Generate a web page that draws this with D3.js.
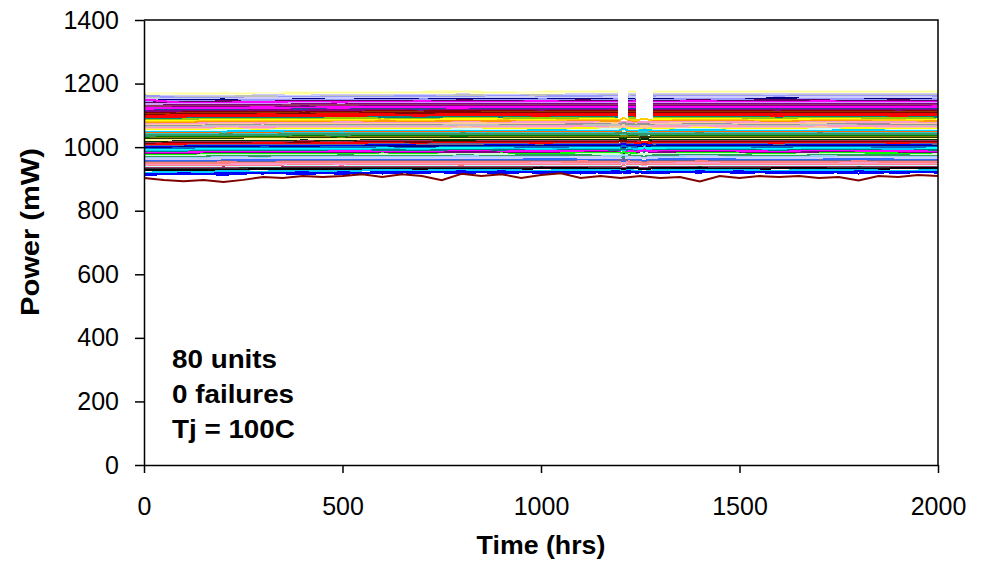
<!DOCTYPE html>
<html>
<head>
<meta charset="utf-8">
<script src="https://cdn.jsdelivr.net/npm/d3@7"></script>
<style>
  body { margin: 0; background: #fff; }
  text { font-family: "Liberation Sans", Arial, sans-serif; fill: #000; }
</style>
</head>
<body>
<svg id="chart" width="985" height="573"></svg>
<script>
// sample times (hrs) shared by the units
const hours = [0,100,200,300,400,500,600,700,800,900,1000,1100,1195,1208,1220,1240,1260,1282,1400,1500,1600,1700,1800,1900,2000];

// power readings (mW) per unit, null = missing reading
const unitValues = [
  [1168,1170,1172,1171,1173,1174,1172,1175,1176,1174,1175,1176,1177,null,1176,1177,null,1176,1177,1178,1176,1177,1176,1177,1178],
  [1165,1166,1168,1167,1170,1171,1169,1172,1173,1171,1172,1173,1174,null,1173,1172,null,1173,1174,1174,1172,1173,1174,1173,1174],
  [1172,1163,1164,1166,1165,1167,1168,1166,1169,1168,1170,1169,1170,null,1169,1170,null,1169,1171,1170,1169,1171,1170,1169,1171],
  [1160,1160,1161,1163,1162,1164,1165,1163,1166,1164,1165,1166,1167,null,1166,1167,null,1166,1168,1167,1166,1168,1167,1166,1167],
  [1158,1157,1159,1160,1158,1161,1162,1160,1163,1162,1163,1162,1163,null,1162,1164,null,1163,1164,1163,1162,1164,1163,1164,1163],
  [1163,1154,1156,1155,1158,1157,1159,1160,1158,1160,1159,1161,1160,null,1159,1160,null,1161,1160,1162,1160,1161,1160,1161,1160],
  [1150,1151,1152,1154,1153,1155,1154,1156,1155,1157,1156,1155,1157,null,1156,1157,null,1156,1158,1157,1156,1157,1158,1157,1156],
  [1146,1148,1150,1147,1151,1149,1152,1150,1153,1151,1152,1150,1153,null,1152,1151,null,1152,1153,1151,1154,1152,1153,1151,1152],
  [1144,1145,1146,1148,1147,1149,1148,1150,1149,1148,1150,1149,1150,null,1149,1150,null,1149,1151,1150,1149,1151,1150,1149,1150],
  [1140,1142,1144,1143,1145,1144,1146,1145,1147,1146,1145,1147,1146,null,1145,1147,null,1146,1147,1146,1148,1147,1146,1147,1146],
  [1150,1139,1140,1142,1141,1143,1142,1144,1142,1143,1144,1143,1142,null,1143,1144,null,1143,1144,1143,1142,1144,1143,1142,1143],
  [1135,1136,1137,1136,1138,1137,1139,1138,1140,1139,1138,1140,1139,null,1138,1139,null,1140,1139,1140,1138,1139,1140,1139,1140],
  [1130,1132,1134,1132,1135,1134,1136,1135,1137,1136,1135,1137,1136,null,1135,1136,null,1137,1136,1135,1137,1136,1135,1136,1137],
  [1128,1129,1131,1130,1132,1131,1133,1132,1131,1133,1132,1134,1133,null,1132,1133,null,1132,1134,1133,1132,1133,1134,1133,1132],
  [1124,1125,1127,1126,1128,1127,1129,1128,1130,1129,1128,1129,1130,null,1129,1128,null,1129,1130,1129,1131,1130,1129,1130,1129],
  [1122,1122,1124,1125,1124,1126,1125,1127,1126,1125,1127,1126,1127,null,1126,1125,null,1126,1127,1126,1125,1127,1126,1127,1128],
  [1118,1119,1121,1120,1122,1121,1123,1122,1124,1123,1122,1123,1124,null,1123,1122,null,1123,1124,1123,1122,1123,1124,1123,1122],
  [1115,1116,1118,1117,1119,1118,1120,1119,1118,1120,1119,1121,1120,null,1119,1120,null,1119,1121,1120,1119,1120,1121,1120,1119],
  [1112,1113,1114,1116,1115,1117,1116,1115,1117,1116,1118,1117,1116,null,1117,1116,null,1117,1118,1117,1116,1117,1118,1117,1116],
  [1108,1109,1111,1110,1112,1111,1113,1112,1114,1113,1112,1113,1114,null,1113,1112,null,1113,1114,1113,1112,1114,1113,1112,1113],
  [1105,1106,1108,1107,1109,1108,1110,1109,1108,1110,1109,1111,1110,null,1109,1110,null,1109,1111,1110,1109,1110,1111,1110,1109],
  [1102,1103,1105,1104,1106,1105,1107,1106,1108,1107,1106,1107,1108,null,1107,1106,null,1107,1108,1107,1106,1108,1107,1106,1107],
  [1099,1100,1101,1103,1102,1104,1103,1102,1104,1103,1105,1104,1103,null,1104,1103,null,1104,1105,1104,1103,1104,1105,1104,1103],
  [1095,1096,1098,1097,1099,1098,1100,1099,1101,1100,1099,1100,1101,null,1100,1099,null,1100,1101,1100,1099,1101,1100,1099,1100],
  [1092,1093,1095,1094,1096,1095,1097,1096,1095,1097,1096,1098,1097,null,1096,1097,null,1096,1098,1097,1096,1097,1098,1097,1096],
  [1089,1090,1092,1091,1093,1092,1094,1093,1095,1094,1093,1094,1095,null,1094,1093,null,1094,1095,1094,1093,1095,1094,1093,1094],
  [1086,1087,1088,1090,1089,1091,1090,1089,1091,1090,1092,1091,1090,null,1091,1090,null,1091,1092,1091,1090,1091,1092,1091,1090],
  [1082,1083,1085,1084,1086,1085,1087,1086,1088,1087,1086,1087,1088,null,1087,1086,null,1087,1088,1087,1086,1088,1087,1086,1087],
  [1079,1080,1082,1081,1083,1082,1084,1083,1082,1084,1083,1085,1084,1092,1085,1084,1090,1083,1085,1084,1083,1084,1085,1084,1083],
  [1076,1077,1079,1078,1080,1079,1081,1080,1082,1081,1080,1081,1082,1075,1081,1080,1078,1081,1082,1081,1080,1082,1081,1080,1081],
  [1073,1074,1075,1077,1076,1078,1077,1076,1078,1077,1079,1078,1077,1080,1078,1077,1079,1078,1079,1078,1077,1078,1079,1078,1077],
  [1069,1070,1072,1071,1073,1072,1074,1073,1075,1074,1073,1074,1075,1070,1074,1073,1068,1074,1075,1074,1073,1075,1074,1073,1074],
  [1066,1067,1069,1068,1070,1069,1071,1070,1069,1071,1070,1072,1071,1076,1072,1071,1074,1070,1072,1071,1070,1071,1072,1071,1070],
  [1063,1064,1066,1065,1067,1066,1068,1067,1069,1068,1067,1068,1069,1064,1068,1067,1062,1068,1069,1068,1067,1069,1068,1067,1068],
  [1060,1061,1062,1064,1063,1065,1064,1063,1065,1064,1066,1065,1064,1060,1065,1064,1058,1065,1066,1065,1064,1065,1066,1065,1064],
  [1056,1057,1059,1058,1060,1059,1061,1060,1062,1061,1060,1061,1062,1066,1061,1060,1064,1061,1062,1061,1060,1062,1061,1060,1061],
  [1053,1054,1056,1055,1057,1056,1058,1057,1056,1058,1057,1059,1058,1052,1059,1058,1055,1057,1059,1058,1057,1058,1059,1058,1057],
  [1050,1051,1053,1052,1054,1053,1055,1054,1056,1055,1054,1055,1056,1048,1055,1054,1050,1055,1056,1055,1054,1056,1055,1054,1055],
  [1047,1048,1049,1051,1050,1052,1051,1050,1052,1051,1053,1052,1051,1058,1052,1051,1055,1052,1053,1052,1051,1052,1053,1052,1051],
  [1043,1044,1046,1045,1047,1046,1048,1047,1049,1048,1047,1048,1049,1044,1048,1047,1043,1048,1049,1048,1047,1049,1048,1047,1048],
  [1040,1041,1043,1042,1044,1043,1045,1044,1043,1045,1044,1046,1045,1040,1046,1045,1048,1044,1046,1045,1044,1045,1046,1045,1044],
  [1037,1038,1040,1039,1041,1040,1042,1041,1043,1042,1041,1042,1043,1046,1042,1041,1038,1042,1043,1042,1041,1043,1042,1041,1042],
  [1034,1035,1036,1038,1037,1039,1038,1037,1039,1038,1040,1039,1038,1033,1039,1038,1042,1039,1040,1039,1038,1039,1040,1039,1038],
  [1030,1031,1033,1032,1034,1033,1035,1034,1036,1035,1034,1035,1036,1030,1035,1034,1031,1035,1036,1035,1034,1036,1035,1034,1035],
  [1027,1028,1030,1029,1031,1030,1032,1031,1030,1032,1031,1033,1032,1036,1033,1032,1028,1031,1033,1032,1031,1032,1033,1032,1031],
  [1024,1025,1027,1026,1028,1027,1029,1028,1030,1029,1028,1029,1030,1025,1029,1028,1033,1029,1030,1029,1028,1030,1029,1028,1029],
  [1021,1022,1023,1025,1024,1026,1025,1024,1026,1025,1027,1026,1025,1020,1026,1025,1022,1026,1027,1026,1025,1026,1027,1026,1025],
  [1017,1018,1020,1019,1021,1020,1022,1021,1023,1022,1021,1022,1023,1028,1022,1021,1026,1022,1023,1022,1021,1023,1022,1021,1022],
  [1014,1015,1017,1016,1018,1017,1019,1018,1017,1019,1018,1020,1019,1014,1020,1019,1016,1018,1020,1019,1018,1019,1020,1019,1018],
  [1011,1012,1014,1013,1015,1014,1016,1015,1017,1016,1015,1016,1017,1021,1016,1015,1012,1016,1017,1016,1015,1017,1016,1015,1016],
  [1008,1009,1010,1012,1011,1013,1012,1011,1013,1012,1014,1013,1012,1007,1013,1012,1016,1013,1014,1013,1012,1013,1014,1013,1012],
  [1004,1005,1007,1006,1008,1007,1009,1008,1010,1009,1008,1009,1010,1005,1009,1008,1003,1009,1010,1009,1008,1010,1009,1008,1009],
  [1001,1002,1004,1003,1005,1004,1006,1005,1004,1006,1005,1007,1006,1010,1007,1006,1009,1005,1007,1006,1005,1006,1007,1006,1005],
  [998,999,1001,1000,1002,1001,1003,1002,1004,1003,1002,1003,1004,999,1003,1002,998,1003,1004,1003,1002,1004,1003,1002,1003],
  [995,996,997,999,998,1000,999,998,1000,999,1001,1000,999,1004,1000,999,994,1000,1001,1000,999,1000,1001,1000,999],
  [991,992,994,993,995,994,996,995,997,996,995,996,997,992,996,995,999,996,997,996,995,997,996,995,996],
  [988,989,991,990,992,991,993,992,991,993,992,994,993,988,994,993,990,992,994,993,992,993,994,993,992],
  [985,986,988,987,989,988,990,989,991,990,989,990,991,995,990,989,986,990,991,990,989,991,990,989,990],
  [982,983,984,986,985,987,986,985,987,986,988,987,986,980,987,986,990,987,988,987,986,987,988,987,986],
  [978,979,981,980,982,981,983,982,984,983,982,983,984,979,983,982,978,983,984,983,982,984,983,982,983],
  [975,976,978,977,979,978,980,979,978,980,979,981,980,984,981,980,977,979,981,980,979,980,981,980,979],
  [972,973,975,974,976,975,977,976,978,977,976,977,978,973,977,976,980,977,978,977,976,978,977,976,977],
  [969,970,971,973,972,974,973,972,974,973,975,974,973,968,974,973,970,974,975,974,973,974,975,974,973],
  [965,966,968,967,969,968,970,969,971,970,969,970,971,975,970,969,966,970,971,970,969,971,970,969,970],
  [962,963,965,964,966,965,967,966,965,967,966,968,967,962,968,967,964,966,968,967,966,967,968,967,966],
  [959,960,962,961,963,962,964,963,965,964,963,964,965,960,964,963,967,964,965,964,963,965,964,963,964],
  [956,957,958,960,959,961,960,959,961,960,962,961,960,955,961,960,957,961,962,961,960,961,962,961,960],
  [952,953,955,954,956,955,957,956,958,957,956,957,958,962,957,956,953,957,958,957,956,958,957,956,957],
  [949,950,952,951,953,952,954,953,952,954,953,955,954,949,955,954,951,953,955,954,953,954,955,954,953],
  [946,947,949,948,950,949,951,950,952,951,950,951,952,947,951,950,946,951,952,951,950,952,951,950,951],
  [943,944,945,947,946,948,947,946,948,947,949,948,947,951,948,947,944,948,949,948,947,948,949,948,947],
  [939,940,942,941,943,942,944,943,945,944,943,944,945,940,944,943,947,944,945,944,943,945,944,943,944],
  [936,937,939,938,940,939,941,940,939,941,940,942,941,936,942,941,938,940,942,941,940,941,942,941,940],
  [933,934,936,935,937,936,938,937,939,938,937,938,939,934,938,937,934,938,939,938,937,939,938,937,938],
  [930,931,932,934,933,935,934,933,935,934,936,935,934,930,935,934,931,935,936,935,934,935,936,935,934],
  [928,928,929,930,930,931,931,932,932,932,933,933,932,932,933,933,932,933,933,932,933,933,932,933,933],
  [920,921,924,923,926,925,928,926,929,927,926,928,929,924,928,926,922,927,929,927,926,928,927,926,927],
  [916,914,918,917,921,916,922,919,924,918,923,917,925,920,919,923,918,922,920,924,918,923,917,922,920],
  [912,918,913,920,915,921,917,923,918,924,919,922,918,921,925,919,923,918,924,919,922,918,924,919,923]
];

const unitColors = [
  '#FFFFCC','#FFFF99','#FFFFCC','#CCCCFF','#C0C0C0','#9999FF','#CCCCFF','#000080',
  '#9999FF','#660066','#FF00FF','#CC99FF','#800080','#993366','#800080','#FF00FF',
  '#FF00FF','#333399','#800080','#800000','#993300','#800000','#FF0000','#FF0000',
  '#FF0000','#008080','#99CC00','#FFFF00','#FFCC00','#FF9900','#FF99CC','#FFCC99',
  '#969696','#C0C0C0','#FF99CC','#FFCC99','#FFFF00','#CCFFFF','#00CCFF','#FF6600',
  '#33CCCC','#339966','#339966','#008000','#808000','#333300','#FFFF99','#003300',
  '#993366','#800000','#FF0000','#666699','#0000FF','#000080','#0066CC','#00FFFF',
  '#00CCFF','#008080','#FF00FF','#800080','#00FF00','#CCFFCC','#339966','#99CCFF',
  '#CCCCFF','#CCCCFF','#3366FF','#666699','#FF8080','#FF8080','#FF99CC','#FF8080',
  '#CCFFFF','#993366','#333333','#000000','#00CCFF','#0000FF','#0000FF'
];

// lowest unit, read at a finer step
const lowUnitHours = [0,50,100,150,200,250,300,350,400,450,500,550,600,650,700,750,800,850,900,950,1000,
  1050,1100,1150,1200,1250,1300,1350,1400,1450,1500,1550,1600,1650,1700,1750,1800,1850,1900,1950,2000];
const lowUnitValues = [903,897,893,897,890,897,906,903,909,906,909,915,906,915,909,896,916,909,915,903,912,
  918,903,909,903,909,903,906,892,909,903,909,906,909,903,906,895,909,906,912,909];
const lowUnitColor = '#800000';

const yTicks = [0,200,400,600,800,1000,1200,1400];
const xTicks = [0,500,1000,1500,2000];
const notes = ['80 units','0 failures','Tj = 100C'];

const svg = d3.select('#chart');
const plot = { left: 144, right: 938, top: 20, bottom: 465 };
const stretch = 1.07; // text in the picture is a little wide

const x = d3.scaleLinear().domain([0, 2000]).range([plot.left, plot.right]);
const y = d3.scaleLinear().domain([0, 1400]).range([plot.bottom, plot.top]);

const line = d3.line()
  .defined(d => d[1] != null)
  .x(d => x(d[0]))
  .y(d => y(d[1]));

// unit traces
svg.append('g')
  .attr('shape-rendering', 'crispEdges')
  .selectAll('path')
  .data(unitValues)
  .enter()
  .append('path')
  .attr('d', vals => line(vals.map((v, i) => [hours[i], v])))
  .attr('fill', 'none')
  .attr('stroke', (d, i) => unitColors[i])
  .attr('stroke-width', 2);

svg.append('path')
  .attr('d', line(lowUnitValues.map((v, i) => [lowUnitHours[i], v])))
  .attr('fill', 'none')
  .attr('stroke', lowUnitColor)
  .attr('stroke-width', 2);

// plot frame (top and right)
svg.append('path')
  .attr('d', `M${plot.left},${plot.top}H${plot.right}V${plot.bottom}`)
  .attr('fill', 'none')
  .attr('stroke', '#000')
  .attr('stroke-width', 1.5);

// axes
const yAxis = svg.append('g')
  .attr('transform', `translate(${plot.left},0)`)
  .call(d3.axisLeft(y).tickValues(yTicks).tickFormat(d3.format('d'))
    .tickSize(9).tickSizeOuter(0).tickPadding(16));

const xAxis = svg.append('g')
  .attr('transform', `translate(0,${plot.bottom})`)
  .call(d3.axisBottom(x).tickValues(xTicks).tickFormat(d3.format('d'))
    .tickSize(8).tickSizeOuter(0).tickPadding(24));

[yAxis, xAxis].forEach(ax => {
  ax.select('.domain').attr('stroke', '#000').attr('stroke-width', 1.5);
  ax.selectAll('.tick line').attr('stroke', '#000').attr('stroke-width', 1.5);
  ax.selectAll('.tick text')
    .style('font-size', '25px')
    .style('font-family', '"Liberation Sans", Arial, sans-serif')
    .attr('fill', '#000');
});

// axis titles
svg.append('text')
  .attr('transform', `translate(${(plot.left + plot.right) / 2},554) scale(${stretch},1)`)
  .attr('text-anchor', 'middle')
  .style('font-size', '25px')
  .style('font-weight', 'bold')
  .text('Time (hrs)');

svg.append('text')
  .attr('transform', 'translate(39,232) rotate(-90)')
  .attr('text-anchor', 'middle')
  .attr('textLength', 168)
  .attr('lengthAdjust', 'spacingAndGlyphs')
  .style('font-size', '25px')
  .style('font-weight', 'bold')
  .text('Power (mW)');

// test conditions note
svg.append('g')
  .selectAll('text')
  .data(notes)
  .enter()
  .append('text')
  .attr('transform', (d, i) => `translate(172,${368 + i * 35}) scale(${stretch},1)`)
  .style('font-size', '26px')
  .style('font-weight', 'bold')
  .text(d => d);
</script>
</body>
</html>
